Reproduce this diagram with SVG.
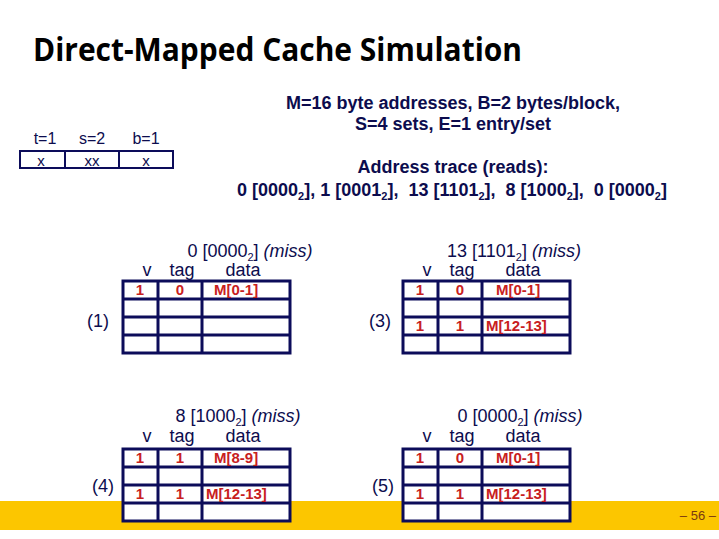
<svg xmlns="http://www.w3.org/2000/svg" width="719" height="539" viewBox="0 0 719 539">
<style>
.t{font-family:"Liberation Sans",Arial,sans-serif;fill:#0c0c4e}
.b{font-weight:bold}
.grid{fill:none;stroke:#0c0c5a;stroke-width:3}
.r{font-family:"Liberation Sans",Arial,sans-serif;font-weight:bold;font-size:15px;fill:#c8201e}
.h{font-size:18px}
.m{font-size:18px}
.pre{white-space:pre}
</style>
<defs>
<g id="grid">
<rect x="0" y="0" width="167" height="72" fill="#ffffff" stroke="#0c0c5a" stroke-width="3"/>
<path class="grid" d="M35 0V72M79 0V72M0 18H167M0 36H167M0 54H167"/>
</g>
<g id="hdr">
<text class="t h" x="24" y="-5" text-anchor="middle">v</text>
<text class="t h" x="59" y="-5" text-anchor="middle">tag</text>
<text class="t h" x="120" y="-5" text-anchor="middle">data</text>
</g>
</defs>
<rect width="719" height="539" fill="#ffffff"/>
<rect x="0" y="501" width="719" height="29" fill="#fcc600"/>
<text x="33" y="61" font-family="'Open Sans',sans-serif" font-weight="bold" font-size="32" fill="#000" textLength="489" lengthAdjust="spacingAndGlyphs">Direct-Mapped Cache Simulation</text>

<g id="bitfields">
<text class="t" font-size="16" x="45" y="144" text-anchor="middle">t=1</text>
<text class="t" font-size="16" x="92" y="144" text-anchor="middle">s=2</text>
<text class="t" font-size="16" x="146" y="144" text-anchor="middle">b=1</text>
<rect x="20" y="151" width="153" height="17" fill="none" stroke="#0c0c5a" stroke-width="2"/>
<path d="M65 151V168M119 151V168" stroke="#0c0c5a" stroke-width="2"/>
<text class="t" font-size="15" x="41" y="166" text-anchor="middle">x</text>
<text class="t" font-size="15" x="92" y="166" text-anchor="middle">xx</text>
<text class="t" font-size="15" x="146" y="166" text-anchor="middle">x</text>
</g>

<g id="params">
<text class="t b m" x="453" y="109" text-anchor="middle">M=16 byte addresses, B=2 bytes/block,</text>
<text class="t b m" x="453" y="130" text-anchor="middle">S=4 sets, E=1 entry/set</text>
<text class="t b m" x="453" y="173" text-anchor="middle">Address trace (reads):</text>
<text class="t b m pre" x="452" y="196" text-anchor="middle">0 [0000<tspan font-size="11" dy="4">2</tspan><tspan dy="-4">], 1 [0001</tspan><tspan font-size="11" dy="4">2</tspan><tspan dy="-4">],  13 [1101</tspan><tspan font-size="11" dy="4">2</tspan><tspan dy="-4">],  8 [1000</tspan><tspan font-size="11" dy="4">2</tspan><tspan dy="-4">],  0 [0000</tspan><tspan font-size="11" dy="4">2</tspan><tspan dy="-4">]</tspan></text>
</g>

<g id="cache1" transform="translate(123,281)">
<text class="t h" x="127" y="-24" text-anchor="middle">0 [0000<tspan font-size="11" dy="4">2</tspan><tspan dy="-4">] </tspan><tspan font-style="italic">(miss)</tspan></text>
<use href="#hdr"/>
<use href="#grid"/>
<text class="r" x="17" y="14" text-anchor="middle">1</text>
<text class="r" x="57" y="14" text-anchor="middle">0</text>
<text class="r" x="91" y="14">M[0-1]</text>
<text class="t h" x="-25" y="46" text-anchor="middle">(1)</text>
</g>

<g id="cache3" transform="translate(403,281)">
<text class="t h" x="111" y="-24" text-anchor="middle">13 [1101<tspan font-size="11" dy="4">2</tspan><tspan dy="-4">] </tspan><tspan font-style="italic">(miss)</tspan></text>
<use href="#hdr"/>
<use href="#grid"/>
<text class="r" x="17" y="14" text-anchor="middle">1</text>
<text class="r" x="57" y="14" text-anchor="middle">0</text>
<text class="r" x="93" y="14">M[0-1]</text>
<text class="r" x="17" y="50" text-anchor="middle">1</text>
<text class="r" x="57" y="50" text-anchor="middle">1</text>
<text class="r" x="83" y="50">M[12-13]</text>
<text class="t h" x="-23" y="46" text-anchor="middle">(3)</text>
</g>

<g id="cache4" transform="translate(123,449)">
<text class="t h" x="115" y="-27" text-anchor="middle">8 [1000<tspan font-size="11" dy="4">2</tspan><tspan dy="-4">] </tspan><tspan font-style="italic">(miss)</tspan></text>
<use href="#hdr" transform="translate(0,-2)"/>
<use href="#grid"/>
<text class="r" x="17" y="14" text-anchor="middle">1</text>
<text class="r" x="57" y="14" text-anchor="middle">1</text>
<text class="r" x="91" y="14">M[8-9]</text>
<text class="r" x="17" y="50" text-anchor="middle">1</text>
<text class="r" x="57" y="50" text-anchor="middle">1</text>
<text class="r" x="83" y="50">M[12-13]</text>
<text class="t h" x="-20" y="43" text-anchor="middle">(4)</text>
</g>

<g id="cache5" transform="translate(403,449)">
<text class="t h" x="117" y="-27" text-anchor="middle">0 [0000<tspan font-size="11" dy="4">2</tspan><tspan dy="-4">] </tspan><tspan font-style="italic">(miss)</tspan></text>
<use href="#hdr" transform="translate(0,-2)"/>
<use href="#grid"/>
<text class="r" x="17" y="14" text-anchor="middle">1</text>
<text class="r" x="57" y="14" text-anchor="middle">0</text>
<text class="r" x="93" y="14">M[0-1]</text>
<text class="r" x="17" y="50" text-anchor="middle">1</text>
<text class="r" x="57" y="50" text-anchor="middle">1</text>
<text class="r" x="83" y="50">M[12-13]</text>
<text class="t h" x="-20" y="43" text-anchor="middle">(5)</text>
</g>

<g id="connectors"></g>
<text x="716" y="520" text-anchor="end" font-family="'Liberation Sans',Arial,sans-serif" font-size="13" fill="#7a3a10">– 56 –</text>
</svg>
